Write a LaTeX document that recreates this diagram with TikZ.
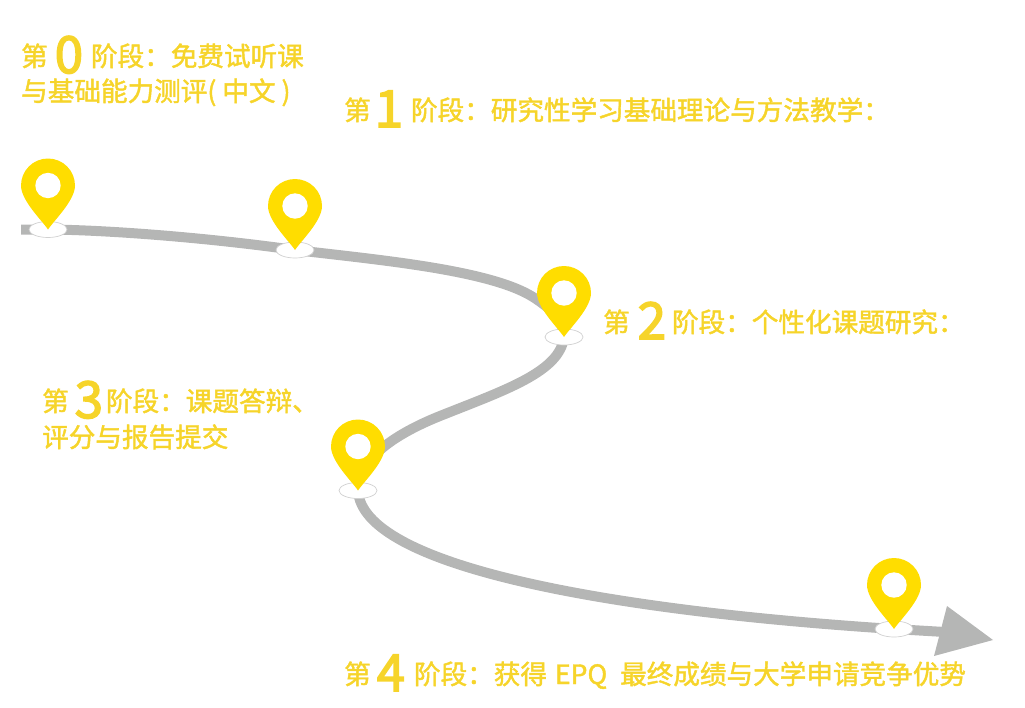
\documentclass[tikz,border=0pt]{standalone}
\usepackage{fontspec}
\setmainfont[FakeBold=1.6]{Noto Sans CJK SC}
\newfontfamily\numfont[FakeBold=3]{Noto Sans CJK SC}
\usetikzlibrary{backgrounds,shapes.geometric}
\definecolor{pinyellow}{HTML}{FFDD00}
\definecolor{textyellow}{HTML}{F6D42A}
\definecolor{roadgray}{HTML}{B5B6B5}
\newcommand{\bignum}[3]{\hspace{#1}\raisebox{-7pt}{\fontsize{51}{51}\numfont #3}\hspace{#2}}
\tikzset{
base/.style={ellipse,draw=black!18,line width=.7pt,fill=white,minimum width=38,minimum height=16,inner sep=0},
road/.style={draw=roadgray,line width=10},
stage/.style={anchor=base west,inner sep=0,text=textyellow,font=\fontsize{26.6}{26.6}\selectfont},
pin/.pic={
\fill[pinyellow] (0,0) .. controls (-6,-9) and (-27,-29) .. (-27,-44) arc (180:360:27) .. controls (27,-29) and (6,-9) .. (0,0) -- cycle;
\fill[white] (0,-44) circle (12.7);
}}
\begin{document}
\begin{tikzpicture}[x=1pt,y=-1pt]
\useasboundingbox (0,0) rectangle (1025,707);
\node[base] (B0) at (48,229.5) {};
\node[base] (B1) at (295,250) {};
\node[base] (B2) at (564,337) {};
\node[base] (B3) at (358,490.5) {};
\node[base] (B4) at (894,629) {};
\coordinate (S) at (21,229.5);
\coordinate (E) at (945,632);
\coordinate (H1) at (947,606);
\coordinate (H2) at (993,640);
\coordinate (H3) at (934,656);
\begin{pgfonlayer}{background}
\draw[road] (S)--(B0.center) .. controls (110,230) and (210,238) .. (B1.center);
\draw[road] (B1.center) .. controls (380,260) and (490,270) .. (533,297) .. controls (550,308) and (564,320) .. (B2.center);
\draw[road] (B2.center) .. controls (560,372) and (505,390) .. (440,416) .. controls (405,430) and (358,455) .. (B3.center);
\draw[road] (B3.center) .. controls (362,565) and (600,610) .. (B4.center);
\draw[road] (B4.center)--(E);
\fill[roadgray] (H1)--(H2)--(H3)--cycle;
\end{pgfonlayer}
\pic at (B0) {pin};
\pic at (B1) {pin};
\pic at (B2) {pin};
\pic at (B3) {pin};
\pic at (B4) {pin};
\node[stage] (T0) at (21,66) {第 \bignum{1pt}{2pt}{0} 阶段：免费试听课};
\node[stage] (T0b) at (21,101) {与基础能力测评( 中文 )};
\node[stage] (T1) at (344,120) {第 \bignum{-2pt}{2pt}{1} 阶段：研究性学习基础理论与方法教学：};
\node[stage] (T2) at (603,332) {第 \bignum{2pt}{0pt}{2} 阶段：个性化课题研究：};
\node[stage] (T3) at (42,411) {第 \bignum{0pt}{-3pt}{3} 阶段：课题答辩、};
\node[stage] (T3b) at (42,447) {评分与报告提交};
\node[stage] (T4) at (344,684) {第 \bignum{0pt}{3pt}{4} 阶段：获得\hspace{2pt} EPQ\hspace{7pt} 最终成绩与大学申请竞争优势};
\end{tikzpicture}
\end{document}
